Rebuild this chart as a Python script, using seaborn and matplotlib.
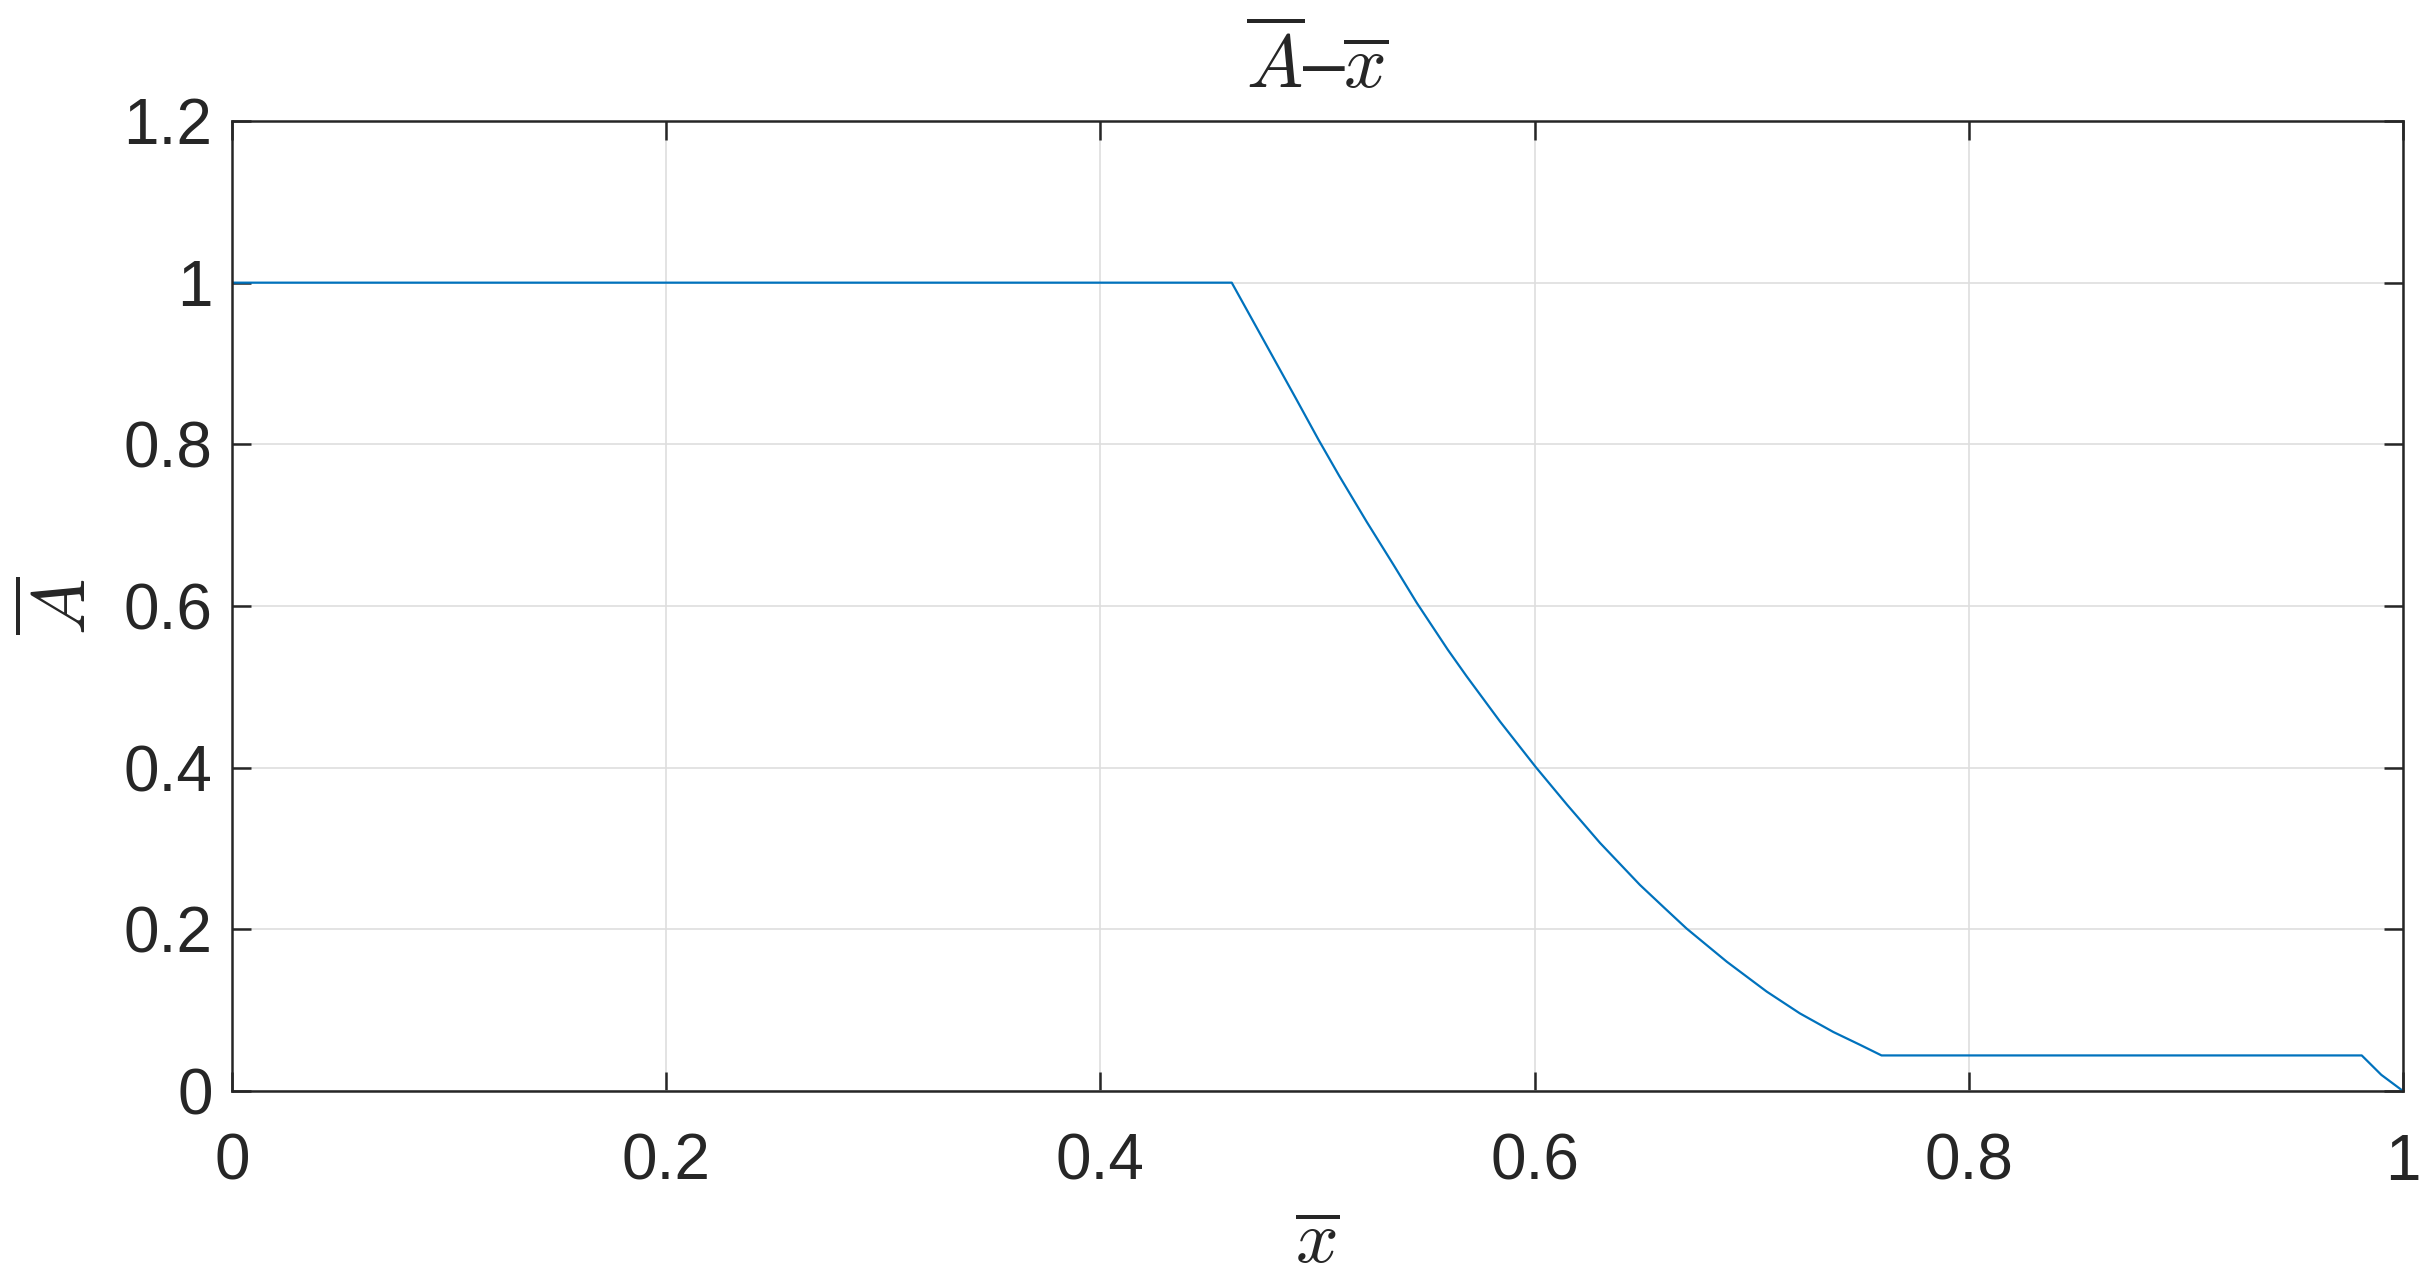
import matplotlib
matplotlib.use("Agg")
import matplotlib.pyplot as plt
import seaborn as sns
import pandas as pd
from matplotlib.ticker import FuncFormatter

# values
x_bar = [0.0, 0.4605, 0.4766, 0.490, 0.5004, 0.510, 0.5227, 0.535, 0.5457,
         0.560, 0.5687, 0.5841, 0.6006, 0.615, 0.6301, 0.6485, 0.660, 0.6700,
         0.6885, 0.7069, 0.7222, 0.7376, 0.750, 0.7598,
         0.9810, 0.9900, 1.0]
a_bar = [1.0, 1.0, 0.922, 0.857, 0.806, 0.761, 0.704, 0.651, 0.604,
         0.546, 0.513, 0.457, 0.4005, 0.354, 0.307, 0.255, 0.226, 0.201,
         0.160, 0.123, 0.096, 0.073, 0.057, 0.044,
         0.044, 0.020, 0.0]
x_ticks = [0, 0.2, 0.4, 0.6, 0.8, 1]
y_ticks = [0, 0.2, 0.4, 0.6, 0.8, 1, 1.2]

df = pd.DataFrame({"x": x_bar, "A": a_bar})

sns.set_theme(style="whitegrid")
plt.rcParams["font.family"] = ["Liberation Sans", "DejaVu Sans"]
plt.rcParams["mathtext.fontset"] = "cm"

fig = plt.figure(figsize=(24.36, 12.85), dpi=100)
ax = fig.add_axes([232 / 2436, 1 - 1091 / 1285, (2403 - 232) / 2436, (1091 - 121) / 1285])

sns.lineplot(data=df, x="x", y="A", ax=ax, color="#0072BD", linewidth=1.6, sort=False)

ax.set_xlim(0, 1)
ax.set_ylim(0, 1.2)
ax.set_xticks(x_ticks)
ax.set_yticks(y_ticks)
fmt = FuncFormatter(lambda v, p: "%g" % v)
ax.xaxis.set_major_formatter(fmt)
ax.yaxis.set_major_formatter(fmt)

ax.grid(True, color="#dedede", linewidth=1.2)
ax.set_facecolor("white")
for s in ax.spines.values():
    s.set_color("#262626")
    s.set_linewidth(1.8)
    s.set_visible(True)

ax.tick_params(axis="both", which="major", direction="in", length=14, width=1.8,
               color="#262626", labelsize=46, labelcolor="#262626",
               top=True, right=True, bottom=True, left=True)
ax.tick_params(axis="x", pad=30)
ax.tick_params(axis="y", pad=14)

ax.set_title(r"$\overline{A}$–$\overline{x}$", fontsize=54, pad=24)
ax.set_xlabel(r"$\overline{x}$", fontsize=54, labelpad=12)
ax.set_ylabel(r"$\overline{A}$", fontsize=54, labelpad=16)

fig.savefig("out.png", dpi=100, facecolor="white")
